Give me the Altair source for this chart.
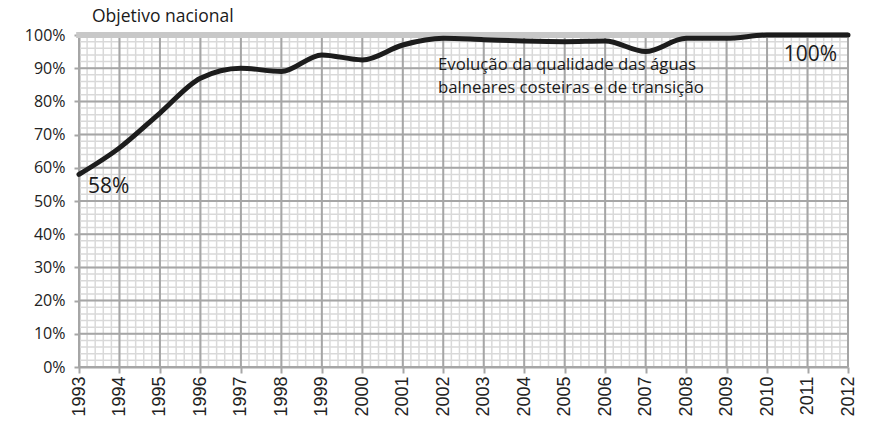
import altair as alt
import pandas as pd

years = list(range(1993, 2013))
values = [58, 66, 76.5, 87, 90, 89, 94, 92.5, 97, 99, 98.6, 98.2, 98, 98.2, 95, 99, 99, 100, 100, 100]

y_major = list(range(0, 101, 10))
y_minor = list(range(0, 101, 2))
x_major = years
x_minor = [round(1993 + 0.2 * i, 1) for i in range(0, 96)]

notes_text = ["Objetivo nacional", "Evolução da qualidade das águas",
              "balneares costeiras e de transição", "100%", "58%"]
notes_x = [1993.32, 2001.87, 2001.87, 2011.73, 1993.22]
notes_y = [105.4, 91.1, 84.0, 94.0, 54.2]
notes_size = [17.5, 16.8, 16.8, 21, 21]
notes_align = ["left", "left", "left", "right", "left"]

FONT = "Open Sans"
GRID_MINOR = "#d9d9d9"
GRID_MAJOR = "#a6a6a6"

df = pd.DataFrame({"year": years, "value": values})
band = pd.DataFrame({"x": [1992.93], "x2": [2012], "y": [100]})

xs = alt.Scale(domain=[1993, 2012], nice=False, zero=False)
ys = alt.Scale(domain=[0, 100], nice=False)

x_axis = alt.Axis(values=x_major, format="d", labelAngle=-90, labelAlign="right",
                  labelBaseline="middle", labelFont="Liberation Sans",
                  labelFontSize=18, labelColor="#222", labelPadding=3,
                  tickSize=6, tickColor=GRID_MAJOR, tickWidth=2,
                  domainColor=GRID_MAJOR, domainWidth=2, grid=False, title=None)
y_axis = alt.Axis(values=y_major, labelExpr="datum.value + '%'",
                  labelFont=FONT, labelFontSize=16, labelColor="#222",
                  labelPadding=9, tickSize=5, tickColor=GRID_MAJOR, tickWidth=2,
                  domainColor=GRID_MAJOR, domainWidth=2, grid=False, title=None)


def vrules(vals, color, w):
    return alt.Chart(pd.DataFrame({"v": vals})).mark_rule(color=color, strokeWidth=w).encode(
        x=alt.X("v:Q", scale=xs, axis=x_axis))


def hrules(vals, color, w):
    return alt.Chart(pd.DataFrame({"v": vals})).mark_rule(color=color, strokeWidth=w).encode(
        y=alt.Y("v:Q", scale=ys, axis=y_axis))


grid_layers = [
    vrules(x_minor, GRID_MINOR, 1.5),
    hrules(y_minor, GRID_MINOR, 1.5),
    vrules(x_major, GRID_MAJOR, 2),
    hrules(y_major, GRID_MAJOR, 2),
]

band_layer = alt.Chart(band).mark_rule(color="#c8c8c8", strokeWidth=6).encode(
    x=alt.X("x:Q", scale=xs, axis=x_axis), x2="x2:Q", y=alt.Y("y:Q", scale=ys, axis=y_axis)
)

line = alt.Chart(df).mark_line(color="#1c1c1c", strokeWidth=5, interpolate="monotone",
                               strokeCap="round", clip=False).encode(
    x=alt.X("year:Q", scale=xs, axis=x_axis),
    y=alt.Y("value:Q", scale=ys, axis=y_axis),
)

texts = []
for t, x, y, s, a in zip(notes_text, notes_x, notes_y, notes_size, notes_align):
    texts.append(alt.Chart(pd.DataFrame({"t": [t], "x": [x], "y": [y]})).mark_text(
        font=FONT, fontSize=s, align=a, baseline="middle", color="#1a1a1a").encode(
        x=alt.X("x:Q", scale=xs, axis=x_axis), y=alt.Y("y:Q", scale=ys, axis=y_axis), text="t:N"))

chart = alt.layer(*grid_layers, band_layer, line, *texts).properties(
    width=769, height=332,
    autosize=alt.AutoSizeParams(type="none"),
    padding={"left": 79, "top": 35, "right": 25, "bottom": 78},
).configure_view(stroke=None).configure(background="white")

chart.save("out.html", embed_options={"renderer": "svg", "actions": False})
